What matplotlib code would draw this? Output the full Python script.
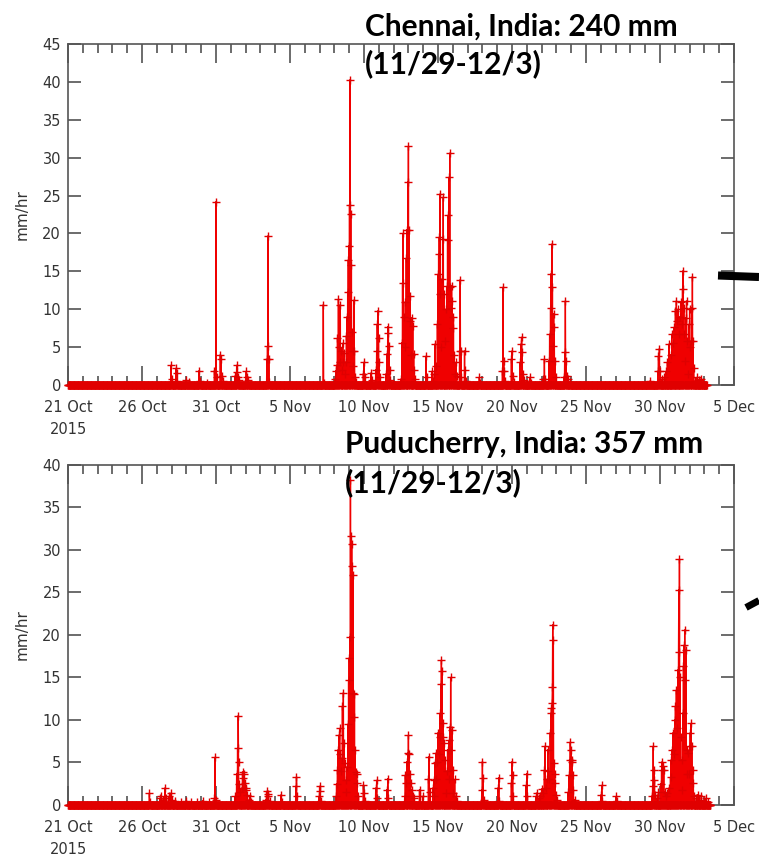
import matplotlib
matplotlib.use('Agg')
import matplotlib.pyplot as plt
from matplotlib.lines import Line2D
from matplotlib.ticker import MultipleLocator
import numpy as np

# half-hourly rain rate, days counted from 21 Oct 2015 00:00; zero where not listed
date_ticks = ['21 Oct\n2015', '26 Oct', '31 Oct', '5 Nov', '10 Nov', '15 Nov',
              '20 Nov', '25 Nov', '30 Nov', '5 Dec']

chennai_title = ['Chennai, India: 240 mm', '(11/29-12/3)']
chennai_end = 43.15
chennai_day = [
    6.96, 7.02, 7.30, 7.35, 7.40, 7.95, 8.20, 8.86, 8.90, 9.40,
    9.90, 10.00, 10.04, 10.30, 10.34, 10.38, 10.45,
    11.30, 11.40, 11.44, 11.48, 11.52, 12.05, 12.10, 12.15,
    13.44, 13.48, 13.52, 13.56, 13.60, 17.25, 17.29,
    18.05, 18.10, 18.15, 18.21, 18.27, 18.31, 18.35, 18.40, 18.44, 18.50,
    18.56, 18.60, 18.65, 18.70, 18.75, 18.81, 18.85, 18.90, 18.94, 18.98,
    19.02, 19.06, 19.10, 19.15, 19.19, 19.23, 19.27, 19.31, 19.35, 19.40, 19.46,
    19.95, 20.00, 20.04, 20.48, 20.52,
    20.80, 20.85, 20.90, 20.94, 20.98, 21.02, 21.06,
    21.50, 21.55, 21.60, 21.64, 21.68, 21.72, 21.78,
    22.50, 22.56, 22.60, 22.64, 22.68, 22.74, 22.80, 22.85, 22.90, 22.95,
    23.00, 23.04, 23.08, 23.13, 23.17, 23.23, 23.29, 23.35, 23.40, 23.46,
    24.18, 24.22, 24.60, 24.64,
    24.75, 24.80, 24.85, 24.95, 25.00, 25.04, 25.08, 25.12, 25.16, 25.21,
    25.27, 25.31, 25.36, 25.40, 25.45, 25.52, 25.58, 25.64, 25.69, 25.73,
    25.79, 25.83, 25.88, 25.92, 25.96, 26.00, 26.04, 26.08, 26.13, 26.20,
    26.25, 26.45, 26.50, 26.54, 26.58, 26.80, 26.84, 26.88,
    27.80, 27.84, 29.35, 29.40, 29.44, 29.48, 29.52,
    29.95, 30.00, 30.04, 30.10, 30.55, 30.60, 30.65, 30.69, 30.73, 30.80,
    31.20, 31.24,
    32.10, 32.18, 32.22, 32.50, 32.55, 32.60, 32.64, 32.69, 32.73, 32.77,
    32.82, 32.86, 32.90, 32.96,
    33.50, 33.56, 33.60, 33.64, 33.70, 33.80, 33.90, 39.30,
    39.85, 39.90, 39.95, 40.00, 40.10, 40.30, 40.40, 40.50, 40.60, 40.70,
    40.80, 40.90, 40.95, 41.05, 41.10, 41.15, 41.21, 41.27, 41.33, 41.40,
    41.46, 41.52, 41.56, 41.60, 41.65, 41.70, 41.75, 41.80, 41.85, 41.90,
    41.95, 42.00, 42.05, 42.10, 42.15, 42.19, 42.23, 42.28, 42.35, 42.50,
    42.60, 42.75, 42.90,
]
chennai_mmhr = [
    2.6, 0.8, 2.2, 1.6, 0.5, 0.6, 0.4, 1.9, 0.5, 0.3,
    1.9, 24.2, 1.0, 4.0, 3.4, 1.2, 0.5,
    1.2, 2.6, 1.7, 1.0, 0.6, 1.8, 1.1, 0.6,
    3.4, 5.1, 19.7, 3.4, 0.4, 10.6, 0.3,
    0.8, 1.9, 2.6, 6.2, 11.3, 5.0, 3.0, 10.6, 4.5, 2.0,
    5.5, 3.0, 4.2, 1.5, 3.0, 6.5, 9.0, 12.3, 16.5, 18.4,
    23.8, 40.3, 22.6, 15.9, 7.0, 4.5, 2.5, 11.2, 4.5, 1.0, 0.4,
    1.5, 3.0, 1.0, 1.6, 0.6,
    2.0, 4.5, 8.0, 9.8, 6.2, 3.0, 1.0,
    1.5, 4.1, 7.7, 6.9, 5.2, 2.0, 0.6,
    0.8, 5.6, 13.5, 20.0, 9.0, 5.0, 11.0, 16.7, 20.5, 26.8,
    31.5, 20.5, 8.5, 11.8, 4.0, 8.9, 7.8, 4.1, 2.0, 0.8,
    3.8, 1.0, 1.8, 0.5,
    1.5, 5.4, 2.5, 8.0, 14.6, 17.3, 19.5, 25.2, 12.0, 5.0,
    14.0, 19.3, 24.8, 12.0, 5.8, 10.0, 13.0, 19.1, 22.4, 27.4,
    30.6, 12.9, 10.2, 13.1, 11.1, 7.5, 9.0, 4.0, 1.4, 3.0,
    1.2, 4.5, 13.9, 4.5, 1.0, 4.5, 2.0, 0.5,
    1.0, 0.3, 1.8, 12.9, 3.2, 1.8, 0.5,
    3.4, 4.5, 1.2, 0.4, 3.0, 5.4, 6.3, 4.3, 1.5, 0.6,
    1.0, 0.3,
    0.8, 3.4, 0.8, 3.2, 6.7, 10.2, 14.7, 18.6, 12.9, 5.2,
    9.4, 7.6, 3.2, 1.0,
    1.0, 4.3, 11.1, 3.2, 1.2, 0.8, 0.4, 0.5,
    1.8, 3.8, 4.8, 1.8, 0.8, 1.0, 1.8, 3.0, 5.4, 4.0,
    6.7, 5.5, 7.6, 9.8, 11.1, 8.5, 10.0, 6.7, 9.0, 11.0,
    8.0, 12.7, 15.1, 10.2, 6.7, 3.2, 8.9, 11.1, 5.8, 1.4,
    8.0, 10.0, 5.0, 5.8, 10.2, 14.3, 5.8, 2.3, 0.5, 1.0,
    0.6, 0.8, 0.4,
]

pudu_title = ['Puducherry, India: 357 mm', '(11/29-12/3)']
pudu_end = 43.4
pudu_day = [
    5.50, 5.54, 6.20, 6.30, 6.40, 6.55, 6.60, 6.80, 6.95, 7.00, 7.20,
    7.60, 8.00, 8.30, 8.70, 9.10, 9.50, 9.90, 9.94, 9.98,
    11.30, 11.40, 11.45, 11.49, 11.53, 11.58, 11.65, 11.75, 11.80, 11.85,
    11.90, 11.95, 12.00, 12.05, 12.10, 12.20, 12.30, 12.40,
    13.35, 13.42, 13.48, 13.55, 13.62, 14.40, 14.44, 15.40, 15.44, 15.48,
    16.95, 17.00, 17.04, 17.10,
    18.10, 18.15, 18.20, 18.25, 18.30, 18.35, 18.40, 18.45, 18.50, 18.55,
    18.60, 18.64, 18.69, 18.74, 18.80, 18.86, 18.92, 18.96, 19.00, 19.04,
    19.08, 19.12, 19.16, 19.20, 19.24, 19.28, 19.32, 19.36, 19.40, 19.45,
    19.50, 19.55, 19.62,
    19.95, 20.00, 20.05, 20.80, 20.85, 20.90, 21.55, 21.60, 21.65,
    22.75, 22.80, 22.85, 22.90, 22.95, 23.00, 23.05, 23.10, 23.15, 23.22,
    23.30, 23.40, 23.75, 23.80, 23.95, 24.35, 24.40, 24.45,
    24.65, 24.70, 24.75, 24.80, 24.85, 24.90, 24.95, 25.00, 25.04, 25.10,
    25.14, 25.18, 25.23, 25.27, 25.31, 25.36, 25.41, 25.46, 25.52, 25.58,
    25.64, 25.70, 25.76, 25.81, 25.86, 25.90, 25.94, 25.99, 26.05, 26.12,
    26.20, 26.30,
    27.95, 28.00, 28.04, 28.08, 29.05, 29.10, 29.14,
    29.95, 30.00, 30.04, 30.08, 30.95, 31.00, 31.04,
    31.60, 31.70, 31.80, 31.90, 32.00, 32.10, 32.18, 32.23, 32.28, 32.35,
    32.41, 32.46, 32.52, 32.58, 32.62, 32.66, 32.70, 32.73, 32.76, 32.80,
    32.84, 32.88, 32.92, 32.97, 33.05,
    33.80, 33.85, 33.90, 33.94, 33.98, 34.02, 34.06, 34.10, 34.15, 34.22,
    36.02, 36.06, 36.10, 37.05, 37.10,
    39.45, 39.50, 39.55, 39.59, 39.63, 39.68, 39.80, 39.90, 40.05, 40.10,
    40.15, 40.20, 40.26, 40.32, 40.40, 40.50, 40.60, 40.70, 40.76, 40.82,
    40.88, 40.94, 41.00, 41.05, 41.10, 41.15, 41.20, 41.24, 41.28, 41.32,
    41.36, 41.40, 41.45, 41.50, 41.55, 41.59, 41.63, 41.67, 41.71, 41.75,
    41.80, 41.85, 41.90, 41.95, 42.00, 42.05, 42.10, 42.15, 42.20, 42.25,
    42.32, 42.45, 42.55, 42.65, 42.80, 42.95, 43.10, 43.25,
]
pudu_mmhr = [
    1.4, 0.4, 0.8, 1.1, 0.6, 2.0, 0.8, 1.0, 1.4, 0.6, 0.5,
    0.4, 0.5, 0.3, 0.4, 0.5, 0.3, 0.8, 5.6, 0.6,
    1.0, 3.7, 6.7, 10.5, 5.0, 2.5, 1.5, 2.0, 3.9, 3.2,
    3.7, 2.6, 1.8, 2.0, 1.2, 0.6, 1.0, 0.4,
    0.6, 1.6, 1.0, 1.3, 0.5, 1.2, 0.4, 2.2, 3.3, 1.0,
    1.0, 2.2, 1.6, 0.5,
    1.0, 2.5, 4.1, 6.5, 8.2, 9.0, 6.0, 4.0, 5.5, 11.6,
    13.2, 7.3, 4.9, 2.9, 1.5, 4.5, 9.5, 14.7, 17.3, 19.8,
    38.2, 31.6, 30.7, 28.1, 27.0, 13.2, 10.4, 13.0, 6.5, 3.9,
    3.7, 2.6, 1.0,
    2.3, 1.4, 0.5, 2.0, 2.9, 0.8, 1.8, 3.1, 0.8,
    1.0, 3.5, 2.6, 5.1, 6.1, 8.2, 6.0, 3.7, 2.6, 1.8,
    1.0, 0.8, 1.8, 1.0, 1.0, 3.1, 5.7, 1.5,
    2.0, 2.9, 1.0, 4.9, 6.1, 3.0, 5.0, 8.5, 6.0, 8.0,
    10.8, 14.2, 17.0, 15.8, 8.0, 9.6, 7.3, 5.3, 1.4, 4.0,
    6.5, 3.0, 7.6, 9.2, 15.0, 6.5, 8.8, 4.1, 1.4, 3.0,
    1.0, 0.5,
    1.8, 5.1, 3.2, 0.6, 2.0, 3.2, 0.5,
    2.6, 5.1, 3.5, 1.0, 2.3, 3.7, 1.0,
    1.0, 1.4, 0.8, 1.0, 1.9, 1.4, 4.1, 6.9, 2.0, 3.0,
    6.5, 4.0, 3.0, 8.5, 10.8, 11.4, 12.0, 13.9, 21.2, 19.4,
    4.9, 3.7, 2.6, 1.2, 0.6,
    1.5, 3.5, 5.3, 7.4, 6.5, 5.3, 5.0, 3.5, 1.8, 0.6,
    1.2, 2.3, 0.5, 1.0, 0.5,
    1.0, 2.2, 6.9, 4.1, 2.9, 1.2, 0.8, 1.5, 2.5, 4.1,
    5.1, 4.6, 4.1, 1.5, 1.0, 1.4, 2.0, 3.3, 5.3, 6.5,
    8.5, 6.0, 10.0, 11.6, 13.5, 9.0, 15.9, 18.0, 25.3, 28.9,
    15.0, 8.0, 5.3, 1.8, 10.8, 16.3, 18.8, 20.6, 14.7, 18.2,
    6.5, 3.7, 6.1, 3.7, 6.9, 8.5, 9.6, 6.9, 4.1, 2.6,
    1.0, 0.8, 1.2, 0.6, 1.0, 0.5, 0.8, 0.4,
]


def half_hourly(days, rates, end):
    t = np.arange(0, end, 1 / 48)
    r = np.zeros_like(t)
    idx = np.rint(np.array(days) * 48).astype(int)
    r[idx] = rates
    return t, r


def draw_panel(ax, days, rates, end, ymax):
    t, r = half_hourly(days, rates, end)
    ax.plot(t, r, color='#f00000', lw=1.0, marker='+', ms=6, mew=1.0,
            mec='#e00000', clip_on=False, zorder=3)
    ax.set_xlim(0, 45)
    ax.set_ylim(0, ymax)
    ax.set_xticks(range(0, 46, 5))
    ax.set_xticklabels(date_ticks)
    for lab in ax.get_xticklabels():
        lab.set_linespacing(1.55)
    ax.xaxis.set_minor_locator(MultipleLocator(1))
    ax.set_yticks(range(0, ymax + 1, 5))
    ax.tick_params(which='both', direction='in', top=True, right=True,
                   colors='#444444', labelcolor='#333333', labelsize=10.5, width=1.1)
    ax.tick_params(axis='x', which='major', length=13.5, pad=11)
    ax.tick_params(axis='x', which='minor', length=6.5)
    ax.tick_params(axis='y', which='major', length=9.5, pad=5)
    for s in ax.spines.values():
        s.set_color('#555555')
        s.set_linewidth(1.2)
    ax.set_ylabel('mm/hr', fontsize=11, color='#333333')
    ax.yaxis.set_label_coords(-0.057, 0.5)


fig = plt.figure(figsize=(7.59, 8.59), dpi=100)
ax1 = fig.add_axes([0.0896, 0.5518, 0.8775, 0.3970])
ax2 = fig.add_axes([0.0896, 0.0629, 0.8775, 0.3958])

draw_panel(ax1, chennai_day, chennai_mmhr, chennai_end, 45)
draw_panel(ax2, pudu_day, pudu_mmhr, pudu_end, 40)

title_font = dict(family='Lato', weight='bold', fontsize=21.5, color='black',
                  va='baseline', ha='left', zorder=10)
fig.text(365 / 759, 1 - 36 / 859, chennai_title[0], **title_font)
fig.text(365 / 759, 1 - 73 / 859, chennai_title[1], **title_font)
fig.text(345 / 759, 1 - 453 / 859, pudu_title[0], **title_font)
fig.text(345 / 759, 1 - 492 / 859, pudu_title[1], **title_font)

# pieces of the slide's arrows entering from the right edge
fig.add_artist(Line2D([718 / 759, 1.0], [1 - 275.5 / 859, 1 - 277 / 859],
                      color='black', lw=5.8, solid_capstyle='butt'))
fig.add_artist(Line2D([746 / 759, 1.0], [1 - 607.5 / 859, 1 - 600.5 / 859],
                      color='black', lw=5.0, solid_capstyle='butt'))

fig.savefig('out.png', dpi=100)
